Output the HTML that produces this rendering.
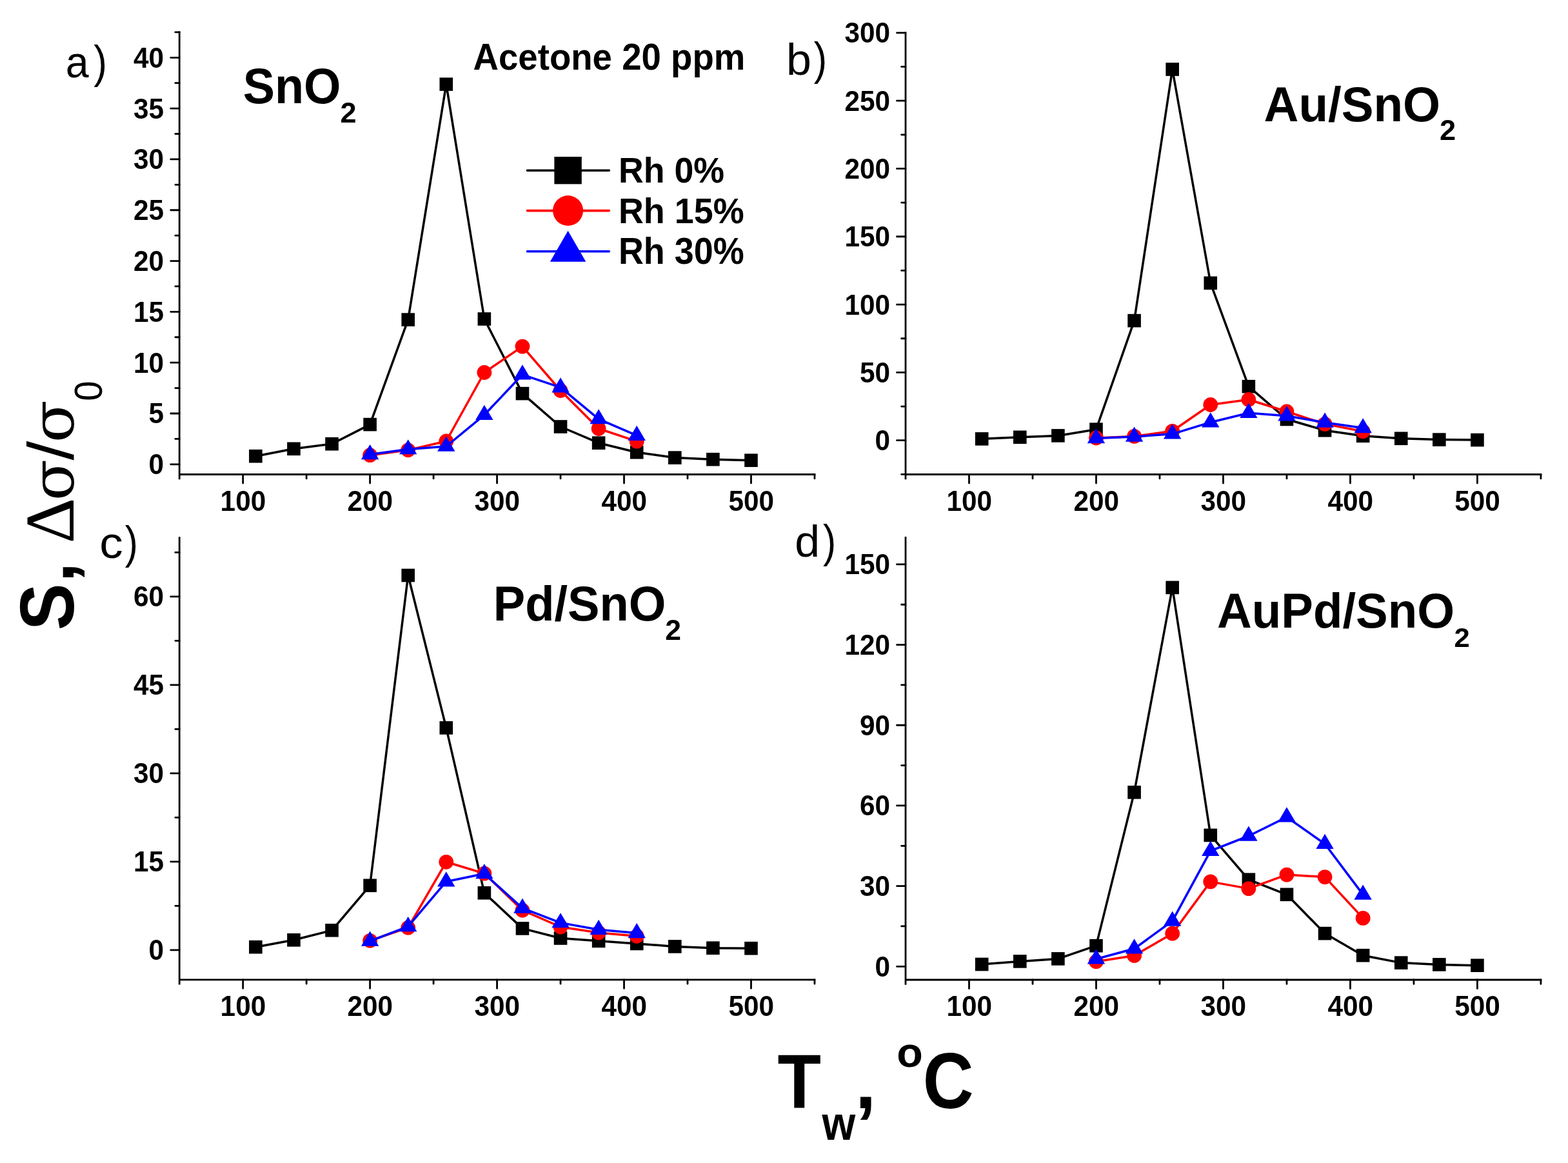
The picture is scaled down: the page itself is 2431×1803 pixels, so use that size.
<!DOCTYPE html><html><head><meta charset="utf-8"><title>Gas sensor response vs temperature</title><style>html,body{margin:0;padding:0;background:#fff;}svg{display:block;}
text{font-family:"Liberation Sans", Arial, sans-serif;fill:#000;}
.tk{font-size:42.5px;font-weight:bold;}
.lg{font-size:55px;font-weight:bold;}
.pn{font-size:73.5px;font-weight:bold;}
.sub{font-size:43px;font-weight:bold;}
.pl{font-size:70px;font-weight:normal;}
.ax{font-size:114px;font-weight:bold;}
.axs{font-size:75px;font-weight:bold;}
.yg{font-size:98px;font-weight:normal;}
.ygd{font-size:100px;font-weight:normal;font-family:"DejaVu Serif","Liberation Serif",serif;}
.ygr{font-size:108px;font-weight:normal;font-family:"Liberation Serif","Times New Roman",serif;}
.ygs{font-size:60px;font-weight:normal;}
</style></head><body><svg width="2431" height="1803" viewBox="0 0 2431 1803"><rect width="2431" height="1803" fill="#fff"/><g><path d="M278.2 49.894V741.9M278.2 735.5H1262.95" stroke="#000" stroke-width="2.8" fill="none" stroke-linecap="square"/><path d="M264.7 719.8H278.2M264.7 640.987H278.2M264.7 562.175H278.2M264.7 483.362H278.2M264.7 404.55H278.2M264.7 325.737H278.2M264.7 246.925H278.2M264.7 168.112H278.2M264.7 89.3H278.2M271.8 680.394H278.2M271.8 601.581H278.2M271.8 522.769H278.2M271.8 443.956H278.2M271.8 365.144H278.2M271.8 286.331H278.2M271.8 207.519H278.2M271.8 128.706H278.2M271.8 49.894H278.2M376.675 735.5V749M573.625 735.5V749M770.575 735.5V749M967.525 735.5V749M1164.475 735.5V749M475.15 735.5V741.9M672.1 735.5V741.9M869.05 735.5V741.9M1066 735.5V741.9M1262.95 735.5V741.9" stroke="#000" stroke-width="2.8" fill="none" stroke-linecap="round"/><text transform="translate(254.091 735.3) scale(0.995 1.053)" text-anchor="end" class="tk">0</text><text transform="translate(254.091 656.487) scale(0.995 1.053)" text-anchor="end" class="tk">5</text><text transform="translate(254.091 577.675) scale(0.995 1.053)" text-anchor="end" class="tk">10</text><text transform="translate(254.091 498.862) scale(0.995 1.053)" text-anchor="end" class="tk">15</text><text transform="translate(254.091 420.05) scale(0.995 1.053)" text-anchor="end" class="tk">20</text><text transform="translate(254.091 341.237) scale(0.995 1.053)" text-anchor="end" class="tk">25</text><text transform="translate(254.091 262.425) scale(0.995 1.053)" text-anchor="end" class="tk">30</text><text transform="translate(254.091 183.612) scale(0.995 1.053)" text-anchor="end" class="tk">35</text><text transform="translate(254.091 104.8) scale(0.995 1.053)" text-anchor="end" class="tk">40</text><text transform="translate(376.877 791.9) scale(0.995 1.053)" text-anchor="middle" class="tk">100</text><text transform="translate(573.828 791.9) scale(0.995 1.053)" text-anchor="middle" class="tk">200</text><text transform="translate(770.778 791.9) scale(0.995 1.053)" text-anchor="middle" class="tk">300</text><text transform="translate(967.728 791.9) scale(0.995 1.053)" text-anchor="middle" class="tk">400</text><text transform="translate(1164.678 791.9) scale(0.995 1.053)" text-anchor="middle" class="tk">500</text><polyline points="396.37,707.2 455.455,695.8 514.54,688.2 573.625,658.1 632.71,495.6 691.795,130.6 750.88,494.5 809.965,610.1 869.05,661.5 928.135,686.7 987.22,701.2 1046.305,709.6 1105.39,712.2 1164.475,713.7" fill="none" stroke="#000" stroke-width="3.5" stroke-linejoin="round"/><rect x="386.07" y="696.9" width="20.6" height="20.6" fill="#000"/><rect x="445.155" y="685.5" width="20.6" height="20.6" fill="#000"/><rect x="504.24" y="677.9" width="20.6" height="20.6" fill="#000"/><rect x="563.325" y="647.8" width="20.6" height="20.6" fill="#000"/><rect x="622.41" y="485.3" width="20.6" height="20.6" fill="#000"/><rect x="681.495" y="120.3" width="20.6" height="20.6" fill="#000"/><rect x="740.58" y="484.2" width="20.6" height="20.6" fill="#000"/><rect x="799.665" y="599.8" width="20.6" height="20.6" fill="#000"/><rect x="858.75" y="651.2" width="20.6" height="20.6" fill="#000"/><rect x="917.835" y="676.4" width="20.6" height="20.6" fill="#000"/><rect x="976.92" y="690.9" width="20.6" height="20.6" fill="#000"/><rect x="1036.005" y="699.3" width="20.6" height="20.6" fill="#000"/><rect x="1095.09" y="701.9" width="20.6" height="20.6" fill="#000"/><rect x="1154.175" y="703.4" width="20.6" height="20.6" fill="#000"/><polyline points="573.625,705.7 632.71,697.8 691.795,684 750.88,577.5 809.965,537.1 869.05,605.5 928.135,664.5 987.22,684.2" fill="none" stroke="#f00" stroke-width="3.5" stroke-linejoin="round"/><circle cx="573.625" cy="705.7" r="11.4" fill="#f00"/><circle cx="632.71" cy="697.8" r="11.4" fill="#f00"/><circle cx="691.795" cy="684" r="11.4" fill="#f00"/><circle cx="750.88" cy="577.5" r="11.4" fill="#f00"/><circle cx="809.965" cy="537.1" r="11.4" fill="#f00"/><circle cx="869.05" cy="605.5" r="11.4" fill="#f00"/><circle cx="928.135" cy="664.5" r="11.4" fill="#f00"/><circle cx="987.22" cy="684.2" r="11.4" fill="#f00"/><polyline points="573.625,704.5 632.71,696.6 691.795,692 750.88,643.3 809.965,580.8 869.05,600.7 928.135,649.6 987.22,675.2" fill="none" stroke="#00f" stroke-width="3.5" stroke-linejoin="round"/><polygon points="573.625,689.033 587.325,712.233 559.925,712.233" fill="#00f"/><polygon points="632.71,681.133 646.41,704.333 619.01,704.333" fill="#00f"/><polygon points="691.795,676.533 705.495,699.733 678.095,699.733" fill="#00f"/><polygon points="750.88,627.833 764.58,651.033 737.18,651.033" fill="#00f"/><polygon points="809.965,565.333 823.665,588.533 796.265,588.533" fill="#00f"/><polygon points="869.05,585.233 882.75,608.433 855.35,608.433" fill="#00f"/><polygon points="928.135,634.133 941.835,657.333 914.435,657.333" fill="#00f"/><polygon points="987.22,659.733 1000.92,682.933 973.52,682.933" fill="#00f"/></g>
<g><path d="M1404 50.81V741.9M1404 735.5H2388.9" stroke="#000" stroke-width="2.8" fill="none" stroke-linecap="square"/><path d="M1390.5 682.7H1404M1390.5 577.385H1404M1390.5 472.07H1404M1390.5 366.755H1404M1390.5 261.44H1404M1390.5 156.125H1404M1390.5 50.81H1404M1397.6 735.358H1404M1397.6 630.043H1404M1397.6 524.728H1404M1397.6 419.413H1404M1397.6 314.098H1404M1397.6 208.783H1404M1397.6 103.467H1404M1502.49 735.5V749M1699.47 735.5V749M1896.45 735.5V749M2093.43 735.5V749M2290.41 735.5V749M1600.98 735.5V741.9M1797.96 735.5V741.9M1994.94 735.5V741.9M2191.92 735.5V741.9M2388.9 735.5V741.9" stroke="#000" stroke-width="2.8" fill="none" stroke-linecap="round"/><text transform="translate(1380.041 698.2) scale(0.995 1.053)" text-anchor="end" class="tk">0</text><text transform="translate(1380.041 592.885) scale(0.995 1.053)" text-anchor="end" class="tk">50</text><text transform="translate(1380.041 487.57) scale(0.995 1.053)" text-anchor="end" class="tk">100</text><text transform="translate(1380.041 382.255) scale(0.995 1.053)" text-anchor="end" class="tk">150</text><text transform="translate(1380.041 276.94) scale(0.995 1.053)" text-anchor="end" class="tk">200</text><text transform="translate(1380.041 171.625) scale(0.995 1.053)" text-anchor="end" class="tk">250</text><text transform="translate(1380.041 66.31) scale(0.995 1.053)" text-anchor="end" class="tk">300</text><text transform="translate(1502.693 791.9) scale(0.995 1.053)" text-anchor="middle" class="tk">100</text><text transform="translate(1699.673 791.9) scale(0.995 1.053)" text-anchor="middle" class="tk">200</text><text transform="translate(1896.653 791.9) scale(0.995 1.053)" text-anchor="middle" class="tk">300</text><text transform="translate(2093.632 791.9) scale(0.995 1.053)" text-anchor="middle" class="tk">400</text><text transform="translate(2290.612 791.9) scale(0.995 1.053)" text-anchor="middle" class="tk">500</text><polyline points="1522.188,680.4 1581.282,677.8 1640.376,675.4 1699.47,665.7 1758.564,497.1 1817.658,107.5 1876.752,438.8 1935.846,599.2 1994.94,650 2054.034,667.2 2113.128,675.8 2172.222,679.8 2231.316,681.6 2290.41,682.1" fill="none" stroke="#000" stroke-width="3.5" stroke-linejoin="round"/><rect x="1511.888" y="670.1" width="20.6" height="20.6" fill="#000"/><rect x="1570.982" y="667.5" width="20.6" height="20.6" fill="#000"/><rect x="1630.076" y="665.1" width="20.6" height="20.6" fill="#000"/><rect x="1689.17" y="655.4" width="20.6" height="20.6" fill="#000"/><rect x="1748.264" y="486.8" width="20.6" height="20.6" fill="#000"/><rect x="1807.358" y="97.2" width="20.6" height="20.6" fill="#000"/><rect x="1866.452" y="428.5" width="20.6" height="20.6" fill="#000"/><rect x="1925.546" y="588.9" width="20.6" height="20.6" fill="#000"/><rect x="1984.64" y="639.7" width="20.6" height="20.6" fill="#000"/><rect x="2043.734" y="656.9" width="20.6" height="20.6" fill="#000"/><rect x="2102.828" y="665.5" width="20.6" height="20.6" fill="#000"/><rect x="2161.922" y="669.5" width="20.6" height="20.6" fill="#000"/><rect x="2221.016" y="671.3" width="20.6" height="20.6" fill="#000"/><rect x="2280.11" y="671.8" width="20.6" height="20.6" fill="#000"/><polyline points="1699.47,679 1758.564,676.4 1817.658,668.3 1876.752,627.5 1935.846,619.5 1994.94,638 2054.034,657.4 2113.128,668.7" fill="none" stroke="#f00" stroke-width="3.5" stroke-linejoin="round"/><circle cx="1699.47" cy="679" r="11.4" fill="#f00"/><circle cx="1758.564" cy="676.4" r="11.4" fill="#f00"/><circle cx="1817.658" cy="668.3" r="11.4" fill="#f00"/><circle cx="1876.752" cy="627.5" r="11.4" fill="#f00"/><circle cx="1935.846" cy="619.5" r="11.4" fill="#f00"/><circle cx="1994.94" cy="638" r="11.4" fill="#f00"/><circle cx="2054.034" cy="657.4" r="11.4" fill="#f00"/><circle cx="2113.128" cy="668.7" r="11.4" fill="#f00"/><polyline points="1699.47,679.6 1758.564,677 1817.658,672.8 1876.752,654.7 1935.846,640.2 1994.94,644.8 2054.034,654.9 2113.128,663.6" fill="none" stroke="#00f" stroke-width="3.5" stroke-linejoin="round"/><polygon points="1699.47,664.133 1713.17,687.333 1685.77,687.333" fill="#00f"/><polygon points="1758.564,661.533 1772.264,684.733 1744.864,684.733" fill="#00f"/><polygon points="1817.658,657.333 1831.358,680.533 1803.958,680.533" fill="#00f"/><polygon points="1876.752,639.233 1890.452,662.433 1863.052,662.433" fill="#00f"/><polygon points="1935.846,624.733 1949.546,647.933 1922.146,647.933" fill="#00f"/><polygon points="1994.94,629.333 2008.64,652.533 1981.24,652.533" fill="#00f"/><polygon points="2054.034,639.433 2067.734,662.633 2040.334,662.633" fill="#00f"/><polygon points="2113.128,648.133 2126.828,671.333 2099.428,671.333" fill="#00f"/></g>
<g><path d="M278.2 833.56V1525.2M278.2 1518.8H1262.95" stroke="#000" stroke-width="2.8" fill="none" stroke-linecap="square"/><path d="M264.7 1472.8H278.2M264.7 1335.82H278.2M264.7 1198.84H278.2M264.7 1061.86H278.2M264.7 924.88H278.2M271.8 1404.31H278.2M271.8 1267.33H278.2M271.8 1130.35H278.2M271.8 993.37H278.2M271.8 856.39H278.2M376.675 1518.8V1532.3M573.625 1518.8V1532.3M770.575 1518.8V1532.3M967.525 1518.8V1532.3M1164.475 1518.8V1532.3M475.15 1518.8V1525.2M672.1 1518.8V1525.2M869.05 1518.8V1525.2M1066 1518.8V1525.2M1262.95 1518.8V1525.2" stroke="#000" stroke-width="2.8" fill="none" stroke-linecap="round"/><text transform="translate(254.091 1488.3) scale(0.995 1.053)" text-anchor="end" class="tk">0</text><text transform="translate(254.091 1351.32) scale(0.995 1.053)" text-anchor="end" class="tk">15</text><text transform="translate(254.091 1214.34) scale(0.995 1.053)" text-anchor="end" class="tk">30</text><text transform="translate(254.091 1077.36) scale(0.995 1.053)" text-anchor="end" class="tk">45</text><text transform="translate(254.091 940.38) scale(0.995 1.053)" text-anchor="end" class="tk">60</text><text transform="translate(376.877 1575.2) scale(0.995 1.053)" text-anchor="middle" class="tk">100</text><text transform="translate(573.828 1575.2) scale(0.995 1.053)" text-anchor="middle" class="tk">200</text><text transform="translate(770.778 1575.2) scale(0.995 1.053)" text-anchor="middle" class="tk">300</text><text transform="translate(967.728 1575.2) scale(0.995 1.053)" text-anchor="middle" class="tk">400</text><text transform="translate(1164.678 1575.2) scale(0.995 1.053)" text-anchor="middle" class="tk">500</text><polyline points="396.37,1468.2 455.455,1457.3 514.54,1442.3 573.625,1372.8 632.71,892 691.795,1128.4 750.88,1384.3 809.965,1439.4 869.05,1454.5 928.135,1458.8 987.22,1462.9 1046.305,1467.4 1105.39,1469.7 1164.475,1470.2" fill="none" stroke="#000" stroke-width="3.5" stroke-linejoin="round"/><rect x="386.07" y="1457.9" width="20.6" height="20.6" fill="#000"/><rect x="445.155" y="1447" width="20.6" height="20.6" fill="#000"/><rect x="504.24" y="1432" width="20.6" height="20.6" fill="#000"/><rect x="563.325" y="1362.5" width="20.6" height="20.6" fill="#000"/><rect x="622.41" y="881.7" width="20.6" height="20.6" fill="#000"/><rect x="681.495" y="1118.1" width="20.6" height="20.6" fill="#000"/><rect x="740.58" y="1374" width="20.6" height="20.6" fill="#000"/><rect x="799.665" y="1429.1" width="20.6" height="20.6" fill="#000"/><rect x="858.75" y="1444.2" width="20.6" height="20.6" fill="#000"/><rect x="917.835" y="1448.5" width="20.6" height="20.6" fill="#000"/><rect x="976.92" y="1452.6" width="20.6" height="20.6" fill="#000"/><rect x="1036.005" y="1457.1" width="20.6" height="20.6" fill="#000"/><rect x="1095.09" y="1459.4" width="20.6" height="20.6" fill="#000"/><rect x="1154.175" y="1459.9" width="20.6" height="20.6" fill="#000"/><polyline points="573.625,1458.3 632.71,1438.2 691.795,1336.3 750.88,1354.1 809.965,1411.2 869.05,1437 928.135,1445.9 987.22,1451.3" fill="none" stroke="#f00" stroke-width="3.5" stroke-linejoin="round"/><circle cx="573.625" cy="1458.3" r="11.4" fill="#f00"/><circle cx="632.71" cy="1438.2" r="11.4" fill="#f00"/><circle cx="691.795" cy="1336.3" r="11.4" fill="#f00"/><circle cx="750.88" cy="1354.1" r="11.4" fill="#f00"/><circle cx="809.965" cy="1411.2" r="11.4" fill="#f00"/><circle cx="869.05" cy="1437" r="11.4" fill="#f00"/><circle cx="928.135" cy="1445.9" r="11.4" fill="#f00"/><circle cx="987.22" cy="1451.3" r="11.4" fill="#f00"/><polyline points="573.625,1459 632.71,1436.4 691.795,1366.7 750.88,1354.5 809.965,1407.9 869.05,1430.6 928.135,1441.2 987.22,1446.4" fill="none" stroke="#00f" stroke-width="3.5" stroke-linejoin="round"/><polygon points="573.625,1443.533 587.325,1466.733 559.925,1466.733" fill="#00f"/><polygon points="632.71,1420.933 646.41,1444.133 619.01,1444.133" fill="#00f"/><polygon points="691.795,1351.233 705.495,1374.433 678.095,1374.433" fill="#00f"/><polygon points="750.88,1339.033 764.58,1362.233 737.18,1362.233" fill="#00f"/><polygon points="809.965,1392.433 823.665,1415.633 796.265,1415.633" fill="#00f"/><polygon points="869.05,1415.133 882.75,1438.333 855.35,1438.333" fill="#00f"/><polygon points="928.135,1425.733 941.835,1448.933 914.435,1448.933" fill="#00f"/><polygon points="987.22,1430.933 1000.92,1454.133 973.52,1454.133" fill="#00f"/></g>
<g><path d="M1404 833.34V1525.4M1404 1519H2388.9" stroke="#000" stroke-width="2.8" fill="none" stroke-linecap="square"/><path d="M1390.5 1498.3H1404M1390.5 1373.62H1404M1390.5 1248.94H1404M1390.5 1124.26H1404M1390.5 999.58H1404M1390.5 874.9H1404M1397.6 1435.96H1404M1397.6 1311.28H1404M1397.6 1186.6H1404M1397.6 1061.92H1404M1397.6 937.24H1404M1502.49 1519V1532.5M1699.47 1519V1532.5M1896.45 1519V1532.5M2093.43 1519V1532.5M2290.41 1519V1532.5M1600.98 1519V1525.4M1797.96 1519V1525.4M1994.94 1519V1525.4M2191.92 1519V1525.4M2388.9 1519V1525.4" stroke="#000" stroke-width="2.8" fill="none" stroke-linecap="round"/><text transform="translate(1380.041 1513.8) scale(0.995 1.053)" text-anchor="end" class="tk">0</text><text transform="translate(1380.041 1389.12) scale(0.995 1.053)" text-anchor="end" class="tk">30</text><text transform="translate(1380.041 1264.44) scale(0.995 1.053)" text-anchor="end" class="tk">60</text><text transform="translate(1380.041 1139.76) scale(0.995 1.053)" text-anchor="end" class="tk">90</text><text transform="translate(1380.041 1015.08) scale(0.995 1.053)" text-anchor="end" class="tk">120</text><text transform="translate(1380.041 890.4) scale(0.995 1.053)" text-anchor="end" class="tk">150</text><text transform="translate(1502.693 1575.4) scale(0.995 1.053)" text-anchor="middle" class="tk">100</text><text transform="translate(1699.673 1575.4) scale(0.995 1.053)" text-anchor="middle" class="tk">200</text><text transform="translate(1896.653 1575.4) scale(0.995 1.053)" text-anchor="middle" class="tk">300</text><text transform="translate(2093.632 1575.4) scale(0.995 1.053)" text-anchor="middle" class="tk">400</text><text transform="translate(2290.612 1575.4) scale(0.995 1.053)" text-anchor="middle" class="tk">500</text><polyline points="1522.188,1495 1581.282,1490.4 1640.376,1486.4 1699.47,1466.2 1758.564,1228.3 1817.658,910.9 1876.752,1294.9 1935.846,1363.7 1994.94,1386.8 2054.034,1447.1 2113.128,1481.2 2172.222,1492.6 2231.316,1495.4 2290.41,1496.7" fill="none" stroke="#000" stroke-width="3.5" stroke-linejoin="round"/><rect x="1511.888" y="1484.7" width="20.6" height="20.6" fill="#000"/><rect x="1570.982" y="1480.1" width="20.6" height="20.6" fill="#000"/><rect x="1630.076" y="1476.1" width="20.6" height="20.6" fill="#000"/><rect x="1689.17" y="1455.9" width="20.6" height="20.6" fill="#000"/><rect x="1748.264" y="1218" width="20.6" height="20.6" fill="#000"/><rect x="1807.358" y="900.6" width="20.6" height="20.6" fill="#000"/><rect x="1866.452" y="1284.6" width="20.6" height="20.6" fill="#000"/><rect x="1925.546" y="1353.4" width="20.6" height="20.6" fill="#000"/><rect x="1984.64" y="1376.5" width="20.6" height="20.6" fill="#000"/><rect x="2043.734" y="1436.8" width="20.6" height="20.6" fill="#000"/><rect x="2102.828" y="1470.9" width="20.6" height="20.6" fill="#000"/><rect x="2161.922" y="1482.3" width="20.6" height="20.6" fill="#000"/><rect x="2221.016" y="1485.1" width="20.6" height="20.6" fill="#000"/><rect x="2280.11" y="1486.4" width="20.6" height="20.6" fill="#000"/><polyline points="1699.47,1490.7 1758.564,1481.4 1817.658,1447.2 1876.752,1366.9 1935.846,1377.6 1994.94,1356.1 2054.034,1359.6 2113.128,1423.4" fill="none" stroke="#f00" stroke-width="3.5" stroke-linejoin="round"/><circle cx="1699.47" cy="1490.7" r="11.4" fill="#f00"/><circle cx="1758.564" cy="1481.4" r="11.4" fill="#f00"/><circle cx="1817.658" cy="1447.2" r="11.4" fill="#f00"/><circle cx="1876.752" cy="1366.9" r="11.4" fill="#f00"/><circle cx="1935.846" cy="1377.6" r="11.4" fill="#f00"/><circle cx="1994.94" cy="1356.1" r="11.4" fill="#f00"/><circle cx="2054.034" cy="1359.6" r="11.4" fill="#f00"/><circle cx="2113.128" cy="1423.4" r="11.4" fill="#f00"/><polyline points="1699.47,1486.8 1758.564,1470.8 1817.658,1427.9 1876.752,1319.2 1935.846,1296 1994.94,1266.8 2054.034,1308.2 2113.128,1386.9" fill="none" stroke="#00f" stroke-width="3.5" stroke-linejoin="round"/><polygon points="1699.47,1471.333 1713.17,1494.533 1685.77,1494.533" fill="#00f"/><polygon points="1758.564,1455.333 1772.264,1478.533 1744.864,1478.533" fill="#00f"/><polygon points="1817.658,1412.433 1831.358,1435.633 1803.958,1435.633" fill="#00f"/><polygon points="1876.752,1303.733 1890.452,1326.933 1863.052,1326.933" fill="#00f"/><polygon points="1935.846,1280.533 1949.546,1303.733 1922.146,1303.733" fill="#00f"/><polygon points="1994.94,1251.333 2008.64,1274.533 1981.24,1274.533" fill="#00f"/><polygon points="2054.034,1292.733 2067.734,1315.933 2040.334,1315.933" fill="#00f"/><polygon points="2113.128,1371.433 2126.828,1394.633 2099.428,1394.633" fill="#00f"/></g>
<g><line x1="817.5" y1="264.2" x2="944.3" y2="264.2" stroke="#000" stroke-width="3.6" stroke-linecap="round"/><rect x="859.4" y="243" width="42.4" height="42.4" fill="#000"/><line x1="817.5" y1="326.6" x2="944.3" y2="326.6" stroke="#f00" stroke-width="3.6" stroke-linecap="round"/><circle cx="880.6" cy="326.6" r="23.5" fill="#f00"/><line x1="817.5" y1="389.7" x2="944.3" y2="389.7" stroke="#00f" stroke-width="3.6" stroke-linecap="round"/><polygon points="880.6,357.7 908.35,405.7 852.85,405.7" fill="#00f"/></g>
<g transform="translate(733.56 107.9) scale(0.993 1.03)"><text class="lg">Acetone 20 ppm</text></g>
<g transform="translate(958.94 282.95) scale(0.976 1.021)"><text class="lg">Rh 0%</text></g>
<g transform="translate(958.924 346.2) scale(0.98 1.023)"><text class="lg">Rh 15%</text></g>
<g transform="translate(958.924 409.2) scale(0.98 1.033)"><text class="lg">Rh 30%</text></g>
<g transform="translate(376.689 160.413) scale(1.005 1.049)"><text class="pn">SnO</text></g>
<g transform="translate(527.424 189.5) scale(1.051 1.05)"><text class="sub">2</text></g>
<g transform="translate(1959.525 187.8) scale(1.015 1.043)"><text class="pn">Au/SnO</text></g>
<g transform="translate(2232.024 217.4) scale(1.051 1.037)"><text class="sub">2</text></g>
<g transform="translate(764.697 962.1) scale(1.009 1.035)"><text class="pn">Pd/SnO</text></g>
<g transform="translate(1031.346 991.8) scale(1.036 1.02)"><text class="sub">2</text></g>
<g transform="translate(1887.027 972.9) scale(1.013 1.044)"><text class="pn">AuPd/SnO</text></g>
<g transform="translate(2254.482 1002.7) scale(1.012 1.01)"><text class="sub">2</text></g>
<g transform="translate(101.677 120.064) scale(0.921 0.982)"><text class="pl">a</text></g>
<g transform="translate(145.155 120.12) scale(0.89 0.999)"><text class="pl">)</text></g>
<g transform="translate(1218.973 115.96) scale(0.999 0.986)"><text class="pl">b</text></g>
<g transform="translate(1261.762 115.276) scale(0.876 1.002)"><text class="pl">)</text></g>
<g transform="translate(154.142 864.56) scale(1.039 0.987)"><text class="pl">c</text></g>
<g transform="translate(193.868 865.378) scale(0.865 0.995)"><text class="pl">)</text></g>
<g transform="translate(1232.266 862.567) scale(0.998 0.977)"><text class="pl">d</text></g>
<g transform="translate(1275.968 863.189) scale(0.865 0.994)"><text class="pl">)</text></g>
<g transform="translate(1205.488 1717.5) scale(0.97 1.047)"><text class="ax">T</text></g>
<g transform="translate(1274.522 1766.8) scale(0.887 0.986)"><text class="axs">w</text></g>
<g transform="translate(1325.65 1717.818) scale(1.031 1.019)"><text class="ax">,</text></g>
<g transform="translate(1390.145 1654.345) scale(0.885 0.873)"><text class="axs">o</text></g>
<g transform="translate(1430.748 1718.333) scale(0.958 1.067)"><text class="ax">C</text></g>
<g transform="translate(114.154 977.21) scale(1.046 0.957)"><text class="ax" transform="rotate(-90)">S</text></g>
<g transform="translate(114.24 902.85) scale(0.961 0.981)"><text class="ax" transform="rotate(-90)">,</text></g>
<g transform="translate(113.8 842.416) scale(1.001 1.016)"><text class="ygr" transform="rotate(-90)">&#916;</text></g>
<g transform="translate(113.523 776.214) scale(0.918 0.943)"><text class="ygd" transform="rotate(-90)">&#963;</text></g>
<g transform="translate(113.874 713.6) scale(1.026 1.096)"><text class="yg" transform="rotate(-90)">/</text></g>
<g transform="translate(113.523 686.23) scale(0.918 0.966)"><text class="ygd" transform="rotate(-90)">&#963;</text></g>
<g transform="translate(158.294 621.797) scale(1.013 0.932)"><text class="ygs" transform="rotate(-90)">0</text></g></svg></body></html>
